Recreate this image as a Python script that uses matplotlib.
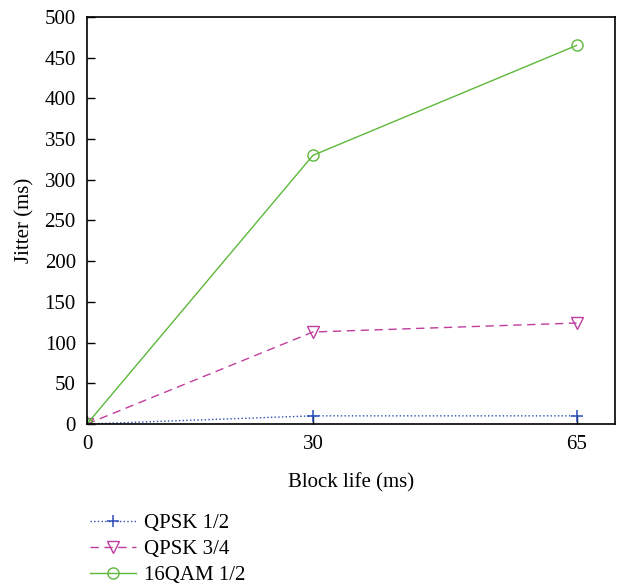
import matplotlib
matplotlib.use('Agg')
import matplotlib.pyplot as plt

plt.rcParams['font.family'] = 'Liberation Serif'
plt.rcParams['font.size'] = 15

block_life = [0, 30, 65]
qpsk_12 = [0, 10, 10]
qpsk_34 = [0, 113, 124]
qam16_12 = [0, 330, 465]

fig = plt.figure(figsize=(6.19, 5.84), dpi=100)
ax = fig.add_axes([0.1405, 0.274, 0.853, 0.697])

ax.plot(block_life, qpsk_12, color='#2a4db8', linestyle=':', linewidth=1,
        marker='+', markersize=9, markeredgewidth=1.1, label='QPSK 1/2')
ax.plot(block_life, qpsk_34, color='#c03c9e', linestyle=(0, (6, 4)), linewidth=1,
        marker='v', markersize=8, markerfacecolor='none', markeredgewidth=1, label='QPSK 3/4')
ax.plot(block_life, qam16_12, color='#5db83a', linestyle='-', linewidth=1,
        marker='o', markersize=8, markerfacecolor='none', markeredgewidth=1, label='16QAM 1/2')

ax.set_xlim(0, 70.1)
ax.set_ylim(0, 500)
ax.set_xticks(block_life)
ax.set_yticks(range(0, 501, 50))
ax.tick_params(direction='in', length=6, width=1, top=False, right=False, pad=8)
for s in ax.spines.values():
    s.set_linewidth(1.2)
ax.set_xlabel('Block life (ms)', labelpad=14)
ax.set_ylabel('Jitter (ms)', labelpad=7)

ax.legend(loc='upper left', bbox_to_anchor=(-0.01, -0.2), frameon=False,
          handlelength=2.2, labelspacing=0.3, borderaxespad=0, handletextpad=0.4)

fig.savefig('out.png', dpi=100)
